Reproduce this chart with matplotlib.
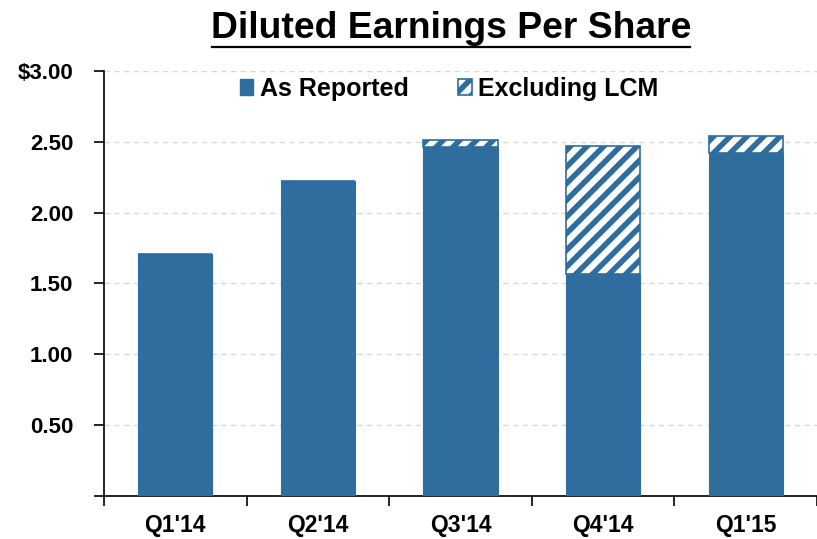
import matplotlib.pyplot as plt
from matplotlib.patches import Patch
from matplotlib.lines import Line2D

plt.rcParams['font.family'] = ['Liberation Sans', 'DejaVu Sans']
plt.rcParams['hatch.linewidth'] = 4.0

quarters = ["Q1'14", "Q2'14", "Q3'14", "Q4'14", "Q1'15"]
as_reported = [1.71, 2.22, 2.46, 1.57, 2.42]
excluding_lcm = [1.71, 2.22, 2.51, 2.47, 2.54]
yticks = [0.5, 1.0, 1.5, 2.0, 2.5, 3.0]
ylabels = ["0.50", "1.00", "1.50", "2.00", "2.50", "$3.00"]

blue = "#2E6D9D"

fig = plt.figure(figsize=(8.17, 5.39), dpi=100)
ax = fig.add_axes([0.1273, 0.0798, 0.8727, 0.7885])

x = list(range(len(quarters)))
extra = [e - a for a, e in zip(as_reported, excluding_lcm)]
ax.bar(x, as_reported, width=0.52, color=blue, edgecolor=blue, linewidth=0.8, zorder=3)
ax.bar(x, extra, bottom=as_reported, width=0.52, color="white", edgecolor=blue,
       hatch="//", linewidth=1.2, zorder=3)

ax.set_ylim(0, 3.0)
ax.set_xlim(-0.5, -0.5 + 713 / 145)
ax.set_yticks([0] + yticks)
ax.set_yticklabels([""] + ylabels, fontsize=16, fontweight="bold")
ax.set_xticks([i - 0.5 for i in range(len(quarters) + 1)])
ax.set_xticklabels([])
ax.set_xticks(x, minor=True)
ax.set_xticklabels(quarters, minor=True, fontsize=16.5, fontweight="bold")
ax.tick_params(axis="x", which="minor", length=0, pad=13)
ax.tick_params(axis="x", which="major", length=7, width=1.2, direction="out")
ax.tick_params(axis="y", length=7, width=1.2, direction="out", pad=15)

for s in ["top", "right"]:
    ax.spines[s].set_visible(False)
ax.spines["left"].set_linewidth(1.2)
ax.spines["bottom"].set_linewidth(1.2)

ax.yaxis.grid(True, linestyle=(0, (4, 3)), color="#d3d9e0", linewidth=1.0, zorder=0)
ax.set_axisbelow(True)

handles = [Patch(facecolor=blue, edgecolor=blue),
           Patch(facecolor="white", edgecolor=blue, hatch="//", linewidth=1.2)]
ax.legend(handles, ["As Reported", "Excluding LCM"], loc="center", bbox_to_anchor=(0.484, 0.958),
          ncol=2, frameon=False, prop={"weight": "bold", "size": 18},
          handlelength=0.55, handleheight=0.55, handletextpad=0.25, columnspacing=2.0)

fig.text(0.552, 0.948, "Diluted Earnings Per Share", ha="center", va="center",
         fontsize=26.8, fontweight="bold")
fig.add_artist(Line2D([212 / 817, 690 / 817], [1 - 47 / 539, 1 - 47 / 539],
                      color="black", linewidth=1.6))

fig.savefig("out.png", dpi=100)
